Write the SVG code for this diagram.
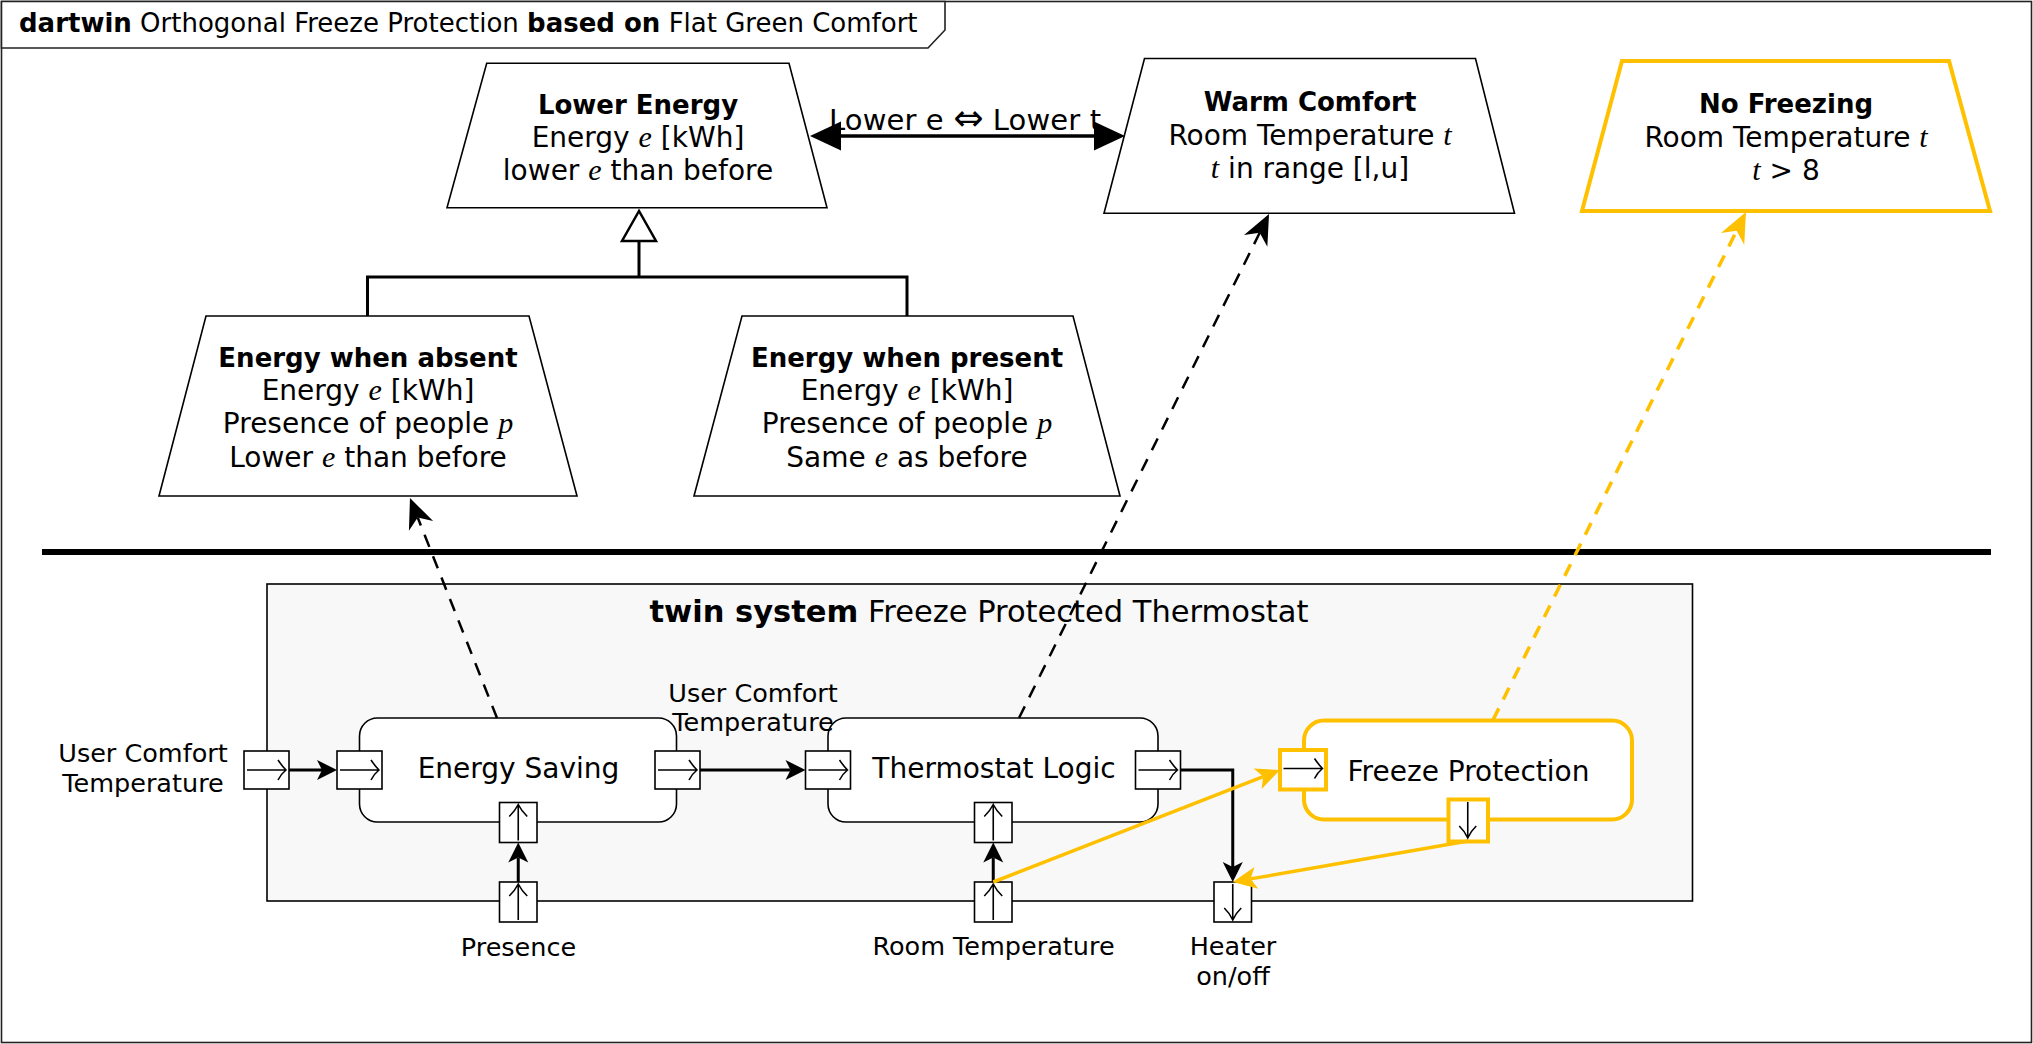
<svg xmlns="http://www.w3.org/2000/svg" xmlns:xlink="http://www.w3.org/1999/xlink" width="2033" height="1044" viewBox="0 0 2033 1044">
<style>
text{font-family:"DejaVu Sans",sans-serif;fill:#000;}
.t28{font-size:28px;text-anchor:middle;}
.b26{font-size:26px;font-weight:bold;text-anchor:middle;}
.lbl{font-size:25.5px;text-anchor:middle;}
.m{font-family:"Liberation Serif",serif;font-style:italic;font-size:30px;}
.bold{font-weight:bold;}
.trap{fill:#fff;stroke:#000;stroke-width:1.6;}
.trapY{fill:#fff;stroke:#FFC000;stroke-width:4;}
.node{fill:#fff;stroke:#000;stroke-width:1.6;}
.nodeY{fill:#fff;stroke:#FFC000;stroke-width:4;}
.port{fill:#fff;stroke:#000;stroke-width:1.6;}
.portY{fill:#fff;stroke:#FFC000;stroke-width:4;}
.glyph{fill:none;stroke:#000;stroke-width:1.6;}
.conn{fill:none;stroke:#000;stroke-width:3;}
.connY{fill:none;stroke:#FFC000;stroke-width:3.5;}
.dash{fill:none;stroke:#000;stroke-width:2.5;stroke-dasharray:13 10;}
.dashY{fill:none;stroke:#FFC000;stroke-width:3.5;stroke-dasharray:13 10;}
</style>
<defs>
<marker id="arrS" markerUnits="userSpaceOnUse" markerWidth="20" markerHeight="20" refX="5" refY="0" orient="auto" overflow="visible"><path d="M0,-10 L20,0 L0,10 L5,0 Z" fill="#000"/></marker>
<marker id="arrY" markerUnits="userSpaceOnUse" markerWidth="24" markerHeight="24" refX="6" refY="0" orient="auto" overflow="visible"><path d="M0,-11 L24,0 L0,11 L6,0 Z" fill="#FFC000"/></marker>
<marker id="arrD" markerUnits="userSpaceOnUse" markerWidth="30" markerHeight="30" refX="9" refY="0" orient="auto" overflow="visible"><path d="M0,-13 L30,0 L0,13 L9,0 Z" fill="#000"/></marker>
<marker id="arrDY" markerUnits="userSpaceOnUse" markerWidth="30" markerHeight="30" refX="9" refY="0" orient="auto" overflow="visible"><path d="M0,-13 L30,0 L0,13 L9,0 Z" fill="#FFC000"/></marker>
<marker id="tri" markerUnits="userSpaceOnUse" markerWidth="31" markerHeight="29" refX="1" refY="0" orient="auto-start-reverse" overflow="visible"><path d="M0,-14.5 L31,0 L0,14.5 Z" fill="#000"/></marker>
<path id="gR" class="glyph" d="M3,19 H42 M34,9 Q38,15 42,19 Q37,23 34,29"/>
<path id="gU" class="glyph" d="M18.75,38 V2 M9.75,14 Q15.5,8.5 18.75,2 Q22,8.5 27.75,14"/>
<path id="gD" class="glyph" d="M18.75,2 V38 M10.25,26 Q16,31.5 18.75,38 Q21.5,31.5 27.25,26"/>
</defs>

<g id="frame">
<rect x="1.5" y="1.5" width="2030" height="1041" fill="#fff" stroke="#222" stroke-width="1.6"/>
<path d="M1.5,1.5 H945 V30 L928,48 H1.5 Z" fill="#fff" stroke="#222" stroke-width="1.6"/>
<text x="19" y="32" style="font-size:26px"><tspan class="bold">dartwin</tspan> Orthogonal Freeze Protection <tspan class="bold">based on</tspan> Flat Green Comfort</text>
</g>

<g id="separator">
<line x1="42" y1="552" x2="1991" y2="552" stroke="#000" stroke-width="6"/>
</g>

<g id="lower-energy">
<polygon class="trap" points="486.7,63.3 789,63.3 827,207.7 447,207.7"/>
<text class="b26" x="638" y="114">Lower Energy</text>
<text class="t28" x="638" y="147">Energy <tspan class="m">e</tspan> [kWh]</text>
<text class="t28" x="638" y="180">lower <tspan class="m">e</tspan> than before</text>
</g>

<g id="energy-absent">
<polygon class="trap" points="206,316 529,316 577,496 159,496"/>
<text class="b26" x="368" y="367">Energy when absent</text>
<text class="t28" x="368" y="400">Energy <tspan class="m">e</tspan> [kWh]</text>
<text class="t28" x="368" y="433">Presence of people <tspan class="m">p</tspan></text>
<text class="t28" x="368" y="467">Lower <tspan class="m">e</tspan> than before</text>
</g>

<g id="energy-present">
<polygon class="trap" points="742,316 1073,316 1120,496 694,496"/>
<text class="b26" x="907" y="367">Energy when present</text>
<text class="t28" x="907" y="400">Energy <tspan class="m">e</tspan> [kWh]</text>
<text class="t28" x="907" y="433">Presence of people <tspan class="m">p</tspan></text>
<text class="t28" x="907" y="467">Same <tspan class="m">e</tspan> as before</text>
</g>

<g id="warm-comfort">
<polygon class="trap" points="1144.5,58.5 1475.5,58.5 1514.5,213.3 1104,213.3"/>
<text class="b26" x="1310" y="111">Warm Comfort</text>
<text class="t28" x="1310" y="145">Room Temperature <tspan class="m">t</tspan></text>
<text class="t28" x="1310" y="178"><tspan class="m">t</tspan> in range [l,u]</text>
</g>

<g id="no-freezing">
<polygon class="trapY" points="1622,61 1949,61 1990,211 1582,211"/>
<text class="b26" x="1786" y="113">No Freezing</text>
<text class="t28" x="1786" y="147">Room Temperature <tspan class="m">t</tspan></text>
<text class="t28" x="1786" y="180"><tspan class="m">t</tspan> &gt; 8</text>
</g>

<g id="twin-system">
<rect x="267" y="584" width="1425.5" height="317" fill="#F8F8F8" stroke="#000" stroke-width="1.6"/>
<text x="979" y="622" style="font-size:30.5px;text-anchor:middle"><tspan class="bold">twin system</tspan> Freeze Protected Thermostat</text>
</g>

<g id="energy-saving">
<rect class="node" x="359.5" y="718" width="317" height="104" rx="18"/>
<text class="t28" x="518.5" y="778">Energy Saving</text>
</g>

<g id="thermostat-logic">
<rect class="node" x="828" y="718" width="330" height="104" rx="18"/>
<text class="t28" x="994" y="778">Thermostat Logic</text>
</g>

<g id="freeze-protection">
<rect class="nodeY" x="1304" y="720.5" width="328" height="99" rx="20"/>
<text class="t28" x="1468.5" y="781">Freeze Protection</text>
</g>

<g id="labels">
<text class="lbl" x="143" y="762">User Comfort</text>
<text class="lbl" x="143" y="792">Temperature</text>
<text class="lbl" x="753" y="702">User Comfort</text>
<text class="lbl" x="753" y="731">Temperature</text>
<text class="lbl" x="518.5" y="956">Presence</text>
<text class="lbl" x="993.5" y="955">Room Temperature</text>
<text class="lbl" x="1233" y="955">Heater</text>
<text class="lbl" x="1233" y="985">on/off</text>
</g>

<g id="connectors">
<path class="conn" d="M639,241 V277 M367.5,316 V277 H907 V316"/>
<polygon points="639,211 622,241 656,241" fill="#fff" stroke="#000" stroke-width="2.5" stroke-linejoin="miter"/>
<line x1="840" y1="136" x2="1095" y2="136" stroke="#000" stroke-width="3.5" marker-start="url(#tri)" marker-end="url(#tri)"/>
<text x="965" y="130" textLength="272" lengthAdjust="spacing" style="font-size:29px;text-anchor:middle">Lower e <tspan style="font-size:36px">⇔</tspan> Lower t</text>
<line class="dash" x1="497" y1="718" x2="417.7" y2="517.5" marker-end="url(#arrD)"/>
<line class="dash" x1="1019" y1="718" x2="1259.7" y2="232.8" marker-end="url(#arrD)"/>
<line class="conn" x1="289" y1="770" x2="322" y2="770" marker-end="url(#arrS)"/>
<line class="conn" x1="700" y1="770" x2="790.5" y2="770" marker-end="url(#arrS)"/>
<line class="conn" x1="518.25" y1="882" x2="518.25" y2="857.5" marker-end="url(#arrS)"/>
<line class="conn" x1="993.25" y1="882" x2="993.25" y2="857.5" marker-end="url(#arrS)"/>
<path class="conn" d="M1181,770 H1232.75 V867" marker-end="url(#arrS)"/>
<line class="dashY" x1="1493" y1="720" x2="1736.6" y2="230.8" marker-end="url(#arrDY)"/>
</g>

<g id="ports">
<rect class="port" x="244" y="751" width="45" height="38"/><use xlink:href="#gR" href="#gR" x="244" y="751"/>
<rect class="port" x="337" y="751" width="45" height="38"/><use xlink:href="#gR" href="#gR" x="337" y="751"/>
<rect class="port" x="655" y="751" width="45" height="38"/><use xlink:href="#gR" href="#gR" x="655" y="751"/>
<rect class="port" x="805.5" y="751" width="45" height="38"/><use xlink:href="#gR" href="#gR" x="805.5" y="751"/>
<rect class="port" x="1135.5" y="751" width="45" height="38"/><use xlink:href="#gR" href="#gR" x="1135.5" y="751"/>
<rect class="port" x="499.5" y="802.5" width="37.5" height="40"/><use xlink:href="#gU" href="#gU" x="499.5" y="802.5"/>
<rect class="port" x="499.5" y="882" width="37.5" height="40"/><use xlink:href="#gU" href="#gU" x="499.5" y="882"/>
<rect class="port" x="974.5" y="802.5" width="37.5" height="40"/><use xlink:href="#gU" href="#gU" x="974.5" y="802.5"/>
<rect class="port" x="974.5" y="882" width="37.5" height="40"/><use xlink:href="#gU" href="#gU" x="974.5" y="882"/>
<rect class="port" x="1214" y="882" width="37.5" height="40"/><use xlink:href="#gD" href="#gD" x="1214" y="882"/>
<rect class="portY" x="1280" y="750" width="46" height="39.5"/><use xlink:href="#gR" href="#gR" x="1280.5" y="749.5"/>
<rect class="portY" x="1448.5" y="799.5" width="39.5" height="42"/><use xlink:href="#gD" href="#gD" x="1449" y="800"/>
</g>

<g id="connectors-highlight">
<line class="connY" x1="993.25" y1="882" x2="1263.2" y2="776.55" marker-end="url(#arrY)"/>
<line class="connY" x1="1468" y1="841" x2="1250.5" y2="878.9" marker-end="url(#arrY)"/>
</g>
</svg>
